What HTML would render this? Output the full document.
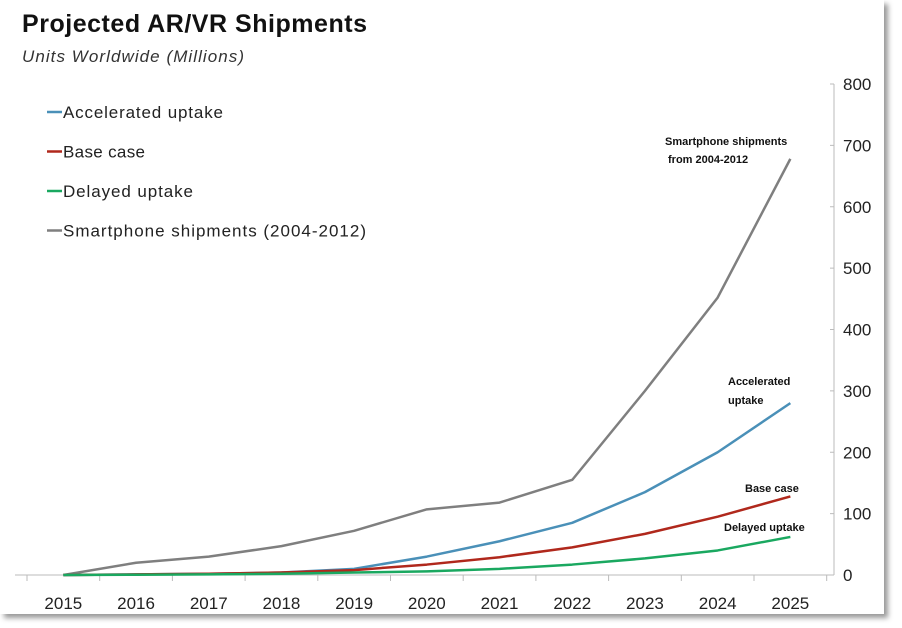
<!DOCTYPE html>
<html><head><meta charset="utf-8"><style>
body{margin:0;background:#fff;width:902px;height:628px;overflow:hidden;font-family:"Liberation Sans",sans-serif}
#frame{position:absolute;left:0;top:0;width:884px;height:614px;background:#fff;box-shadow:4px 4px 5px #999}
</style></head><body>
<div id="frame"></div>
<svg id="c" width="902" height="628" style="position:absolute;left:0;top:0">
<text x="22" y="32" font-size="25" font-weight="bold" fill="#111" textLength="345">Projected AR/VR Shipments</text>
<text x="22" y="62" font-size="17" font-style="italic" fill="#333" textLength="222">Units Worldwide (Millions)</text>
</svg>
<script>
const years=["2015","2016","2017","2018","2019","2020","2021","2022","2023","2024","2025"];
const smartphone=[0,20,30,47,72,107,118,155,300,452,678];
const accelerated=[0,1,2,4,10,30,55,85,135,200,280];
const baseCase=[0,1,2,4,8,17,29,45,67,95,128];
const delayed=[0,0.5,1,2,4,6,10,17,27,40,62];
const yTicks=[0,100,200,300,400,500,600,700,800];
const ns="http://www.w3.org/2000/svg",svg=document.getElementById('c');
const x0=27,cw=72.7,yb=575,yt=84,ymax=800;
const X=i=>x0+cw*(i+0.5), Y=v=>yb-(v/ymax)*(yb-yt);
function el(t,a,txt){const e=document.createElementNS(ns,t);for(const k in a)e.setAttribute(k,a[k]);if(txt!=null)e.textContent=txt;svg.appendChild(e);return e;}
let e=el('line',{x1:15,y1:yb,x2:834,y2:yb,stroke:'#bbb','stroke-width':1});


e=el('line',{x1:834,y1:yt,x2:834,y2:yb,stroke:'#bbb','stroke-width':1});


for(let i=0;i<=years.length;i++){
 e=el('line',{x1:x0+cw*i,y1:yb,x2:x0+cw*i,y2:yb+6,stroke:'#bbb'});
 
 
}
years.forEach((y,i)=>{
 e=el('text',{x:X(i),y:yb+34,'font-size':17,'text-anchor':'middle',fill:'#222'},y);
 
 
});
yTicks.forEach(v=>{
 e=el('line',{x1:830,y1:Y(v),x2:834,y2:Y(v),stroke:'#bbb'});
 
 
 e=el('text',{x:843,y:Y(v)+6,'font-size':17,fill:'#222'},String(v));
 
 
});
const series=[[smartphone,'#7f7f7f','smartphone-line'],[accelerated,'#4a90b8','accelerated-line'],[baseCase,'#b0281c','base-case-line'],[delayed,'#1aa860','delayed-line']];
series.forEach(([d,c,n])=>{
 e=el('polyline',{points:d.map((v,i)=>X(i)+','+Y(v)).join(' '),fill:'none',stroke:c,'stroke-width':2.5,'stroke-linejoin':'round'});
 
 
});
const leg=[['Accelerated uptake','#4a90b8',160],['Base case','#b0281c',82],['Delayed uptake','#1aa860',130],['Smartphone shipments (2004-2012)','#7f7f7f',303]];
leg.forEach(([t,c,w],k)=>{
 const y=112+k*39.5;
 e=el('line',{x1:47,y1:y,x2:62,y2:y,stroke:c,'stroke-width':2.5});
 
 
 e=el('text',{x:63,y:y+6,'font-size':17,fill:'#222',textLength:w},t);
 
 
});
const ann=[['Smartphone shipments',665,145],['from 2004-2012',668,163],['Accelerated',728,385],['uptake',728,404],['Base case',745,492],['Delayed uptake',724,531]];
ann.forEach(([t,x,y])=>{
 e=el('text',{x:x,y:y,'font-size':11,'font-weight':'bold',fill:'#111'},t);
 
 
});
</script>
</body></html>
